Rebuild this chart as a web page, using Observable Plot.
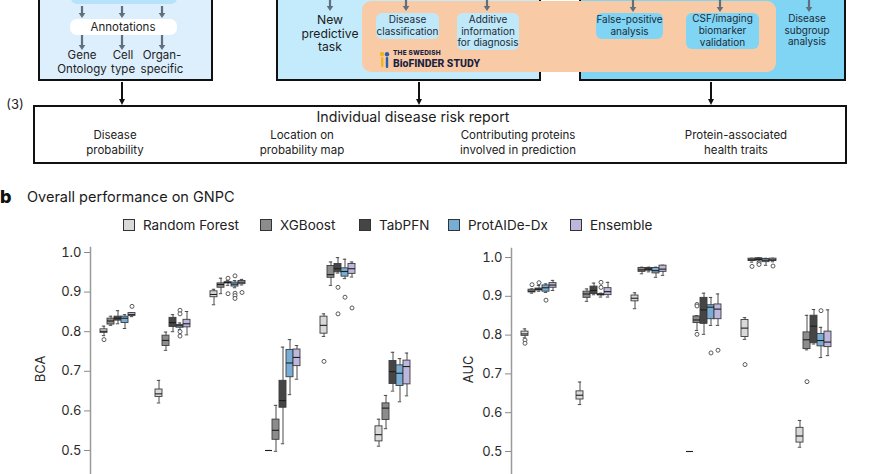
<!DOCTYPE html>
<html>
<head>
<meta charset="utf-8">
<script src="https://cdn.jsdelivr.net/npm/d3@7"></script>
<script src="https://cdn.jsdelivr.net/npm/@observablehq/plot@0.6"></script>
<style>
  html, body { margin: 0; padding: 0; background: #fff; }
  #root { position: relative; width: 870px; height: 474px; overflow: hidden; font-family: Inter, "Noto Sans", sans-serif; color: #222; }
  .abs { position: absolute; box-sizing: border-box; }
  .t { position: absolute; text-align: center; white-space: nowrap; }
  .pill { position: absolute; box-sizing: border-box; border-radius: 6px; display: flex; align-items: center; justify-content: center; text-align: center; white-space: nowrap; font-size: 10px; line-height: 11.8px; color: #1d2b38; }
</style>
</head>
<body>
<div id="root"></div>
<script>
// ---------------- data ----------------
const groups = ["Task 1", "Task 2", "Task 3", "Task 4", "Task 5", "Task 6"];
const models = ["Random Forest", "XGBoost", "TabPFN", "ProtAIDe-Dx", "Ensemble"];
const modelColors = ["#d9d9d9", "#8c8c8c", "#454545", "#78aed6", "#bdb7dd"];
const yTicks = [0.5, 0.6, 0.7, 0.8, 0.9, 1.0];

// box statistics per group: [lower whisker, Q1, median, Q3, upper whisker]
const bcaRandomForest = [[0.790,0.797,0.801,0.806,0.814],[0.620,0.635,0.643,0.654,0.677],[0.868,0.887,0.894,0.902,0.907],[0.500,0.500,0.500,0.500,0.500],[0.788,0.795,0.816,0.838,0.845],[0.511,0.523,0.540,0.561,0.579]];
const bcaXGBoost      = [[0.816,0.818,0.827,0.833,0.839],[0.753,0.764,0.778,0.790,0.799],[0.896,0.911,0.919,0.922,0.935],[0.498,0.527,0.551,0.578,0.614],[0.917,0.936,0.944,0.966,0.976],[0.555,0.577,0.607,0.619,0.639]];
const bcaTabPFN       = [[0.820,0.828,0.834,0.838,0.853],[0.800,0.812,0.823,0.835,0.843],[0.917,0.922,0.924,0.925,0.929],[0.517,0.608,0.626,0.676,0.761],[0.948,0.950,0.959,0.971,0.987],[0.650,0.668,0.699,0.726,0.748]];
const bcaProtAIDe     = [[0.808,0.822,0.834,0.838,0.843],[0.805,0.810,0.815,0.817,0.822],[0.911,0.914,0.920,0.924,0.929],[0.641,0.685,0.721,0.754,0.780],[0.934,0.939,0.952,0.960,0.983],[0.623,0.663,0.695,0.715,0.732]];
const bcaEnsemble     = [[0.838,0.840,0.843,0.847,0.848],[0.792,0.811,0.820,0.830,0.851],[0.918,0.920,0.925,0.928,0.932],[0.680,0.713,0.735,0.755,0.765],[0.938,0.946,0.959,0.971,0.976],[0.638,0.667,0.712,0.727,0.746]];
const bcaOutliers = [
  ["Task 1","Random Forest",0.780],["Task 1","Ensemble",0.864],
  ["Task 2","ProtAIDe-Dx",0.854],["Task 2","ProtAIDe-Dx",0.845],["Task 2","ProtAIDe-Dx",0.800],["Task 2","ProtAIDe-Dx",0.789],
  ["Task 3","TabPFN",0.935],["Task 3","TabPFN",0.896],["Task 3","ProtAIDe-Dx",0.941],["Task 3","ProtAIDe-Dx",0.897],["Task 3","ProtAIDe-Dx",0.891],["Task 3","ProtAIDe-Dx",0.884],["Task 3","Ensemble",0.899],
  ["Task 5","Random Forest",0.725],["Task 5","TabPFN",0.912],["Task 5","TabPFN",0.845],["Task 5","ProtAIDe-Dx",0.887],["Task 5","Ensemble",0.860]
];

const aucRandomForest = [[0.793,0.798,0.803,0.809,0.816],[0.621,0.634,0.645,0.655,0.679],[0.868,0.887,0.895,0.902,0.909],[0.500,0.500,0.500,0.500,0.500],[0.789,0.795,0.818,0.839,0.845],[0.511,0.523,0.540,0.561,0.580]];
const aucXGBoost      = [[0.908,0.910,0.913,0.917,0.919],[0.887,0.896,0.906,0.912,0.919],[0.958,0.963,0.968,0.973,0.975],[0.812,0.831,0.839,0.848,0.850],[0.988,0.991,0.994,0.997,0.998],[0.762,0.764,0.788,0.807,0.851]];
const aucTabPFN       = [[0.913,0.915,0.918,0.920,0.928],[0.904,0.906,0.915,0.925,0.934],[0.963,0.966,0.970,0.973,0.975],[0.802,0.829,0.865,0.896,0.908],[0.990,0.992,0.995,0.998,0.999],[0.777,0.779,0.823,0.850,0.866]];
const aucProtAIDe     = [[0.910,0.912,0.922,0.928,0.932],[0.898,0.903,0.904,0.906,0.908],[0.949,0.959,0.966,0.973,0.975],[0.825,0.841,0.872,0.877,0.897],[0.980,0.988,0.993,0.996,0.998],[0.742,0.771,0.786,0.803,0.820]];
const aucEnsemble     = [[0.915,0.922,0.929,0.934,0.941],[0.898,0.903,0.912,0.921,0.936],[0.954,0.963,0.970,0.979,0.980],[0.825,0.841,0.867,0.879,0.906],[0.989,0.991,0.994,0.997,0.998],[0.747,0.769,0.782,0.809,0.865]];
const aucOutliers = [
  ["Task 1","Random Forest",0.787],["Task 1","Random Forest",0.779],["Task 1","XGBoost",0.930],["Task 1","TabPFN",0.935],["Task 1","ProtAIDe-Dx",0.890],
  ["Task 2","ProtAIDe-Dx",0.936],["Task 2","ProtAIDe-Dx",0.923],
  ["Task 4","XGBoost",0.879],["Task 4","XGBoost",0.875],["Task 4","XGBoost",0.802],["Task 4","ProtAIDe-Dx",0.754],["Task 4","Ensemble",0.761],
  ["Task 5","Random Forest",0.724],["Task 5","XGBoost",0.977],["Task 5","TabPFN",0.986],["Task 5","TabPFN",0.982],["Task 5","Ensemble",0.978],
  ["Task 6","XGBoost",0.680],["Task 6","ProtAIDe-Dx",0.863]
];

// ---------------- helpers for the schematic ----------------
const root = document.getElementById("root");
function el(tag, cls, css, html) {
  const e = document.createElement(tag);
  if (cls) e.className = cls;
  Object.assign(e.style, css || {});
  if (html != null) e.innerHTML = html;
  root.appendChild(e);
  return e;
}
function rect(x, y, w, h, css) { return el("div", "abs", Object.assign({left: x + "px", top: y + "px", width: w + "px", height: h + "px"}, css)); }
// cy = vertical centre of the FIRST line
function text(cx, cy, lines, size, lh, css) {
  return el("div", "t", Object.assign({left: (cx - 150) + "px", width: "300px", top: (cy - lh / 2) + "px", fontSize: size + "px", lineHeight: lh + "px"}, css), lines.join("<br>"));
}
function pill(x, y, w, h, bg, lines) {
  return el("div", "pill", {left: x + "px", top: y + "px", width: w + "px", height: h + "px", background: bg}, lines.join("<br>"));
}

// ---------------- schematic (top) ----------------
rect(38, -20, 175, 101, {background: "#ddeffd", border: "2px solid #111"});
rect(71, -12, 106, 16, {background: "#b7e3fa", borderRadius: "6px"});
rect(70, 19, 107, 16, {background: "#ffffff", borderRadius: "7px"});
text(123, 27, ["Annotations"], 11.5, 14, {color: "#222"});
text(82, 55, ["Gene", "Ontology"], 11.5, 14);
text(123, 55, ["Cell", "type"], 11.5, 14);
text(162, 55, ["Organ-", "specific"], 11.5, 14);

rect(276, -20, 265, 101, {background: "#c4ebfb", border: "2px solid #111"});
rect(579, -20, 267, 101, {background: "#80d4f4", border: "2px solid #111"});
rect(362, 1, 414, 71, {background: "#f8cba6", borderRadius: "9px"});
text(330, 20, ["New", "predictive", "task"], 12.2, 13.5, {color: "#1b1b1b"});
pill(376, 13, 63, 26, "#bfe8f9", ["Disease", "classification"]);
pill(457, 13, 62, 37, "#bfe8f9", ["Additive", "information", "for diagnosis"]);
pill(596, 13, 67, 26, "#80d4f4", ["False-positive", "analysis"]);
pill(686, 13, 73, 36, "#80d4f4", ["CSF/imaging", "biomarker", "validation"]);
text(807, 19, ["Disease", "subgroup", "analysis"], 10, 11.6, {color: "#1d2b38"});
el("div", "abs", {left: "379px", top: "51px", width: "12px", height: "18px"},
  '<svg width="12" height="18"><circle cx="3" cy="3" r="2.2" fill="#f2b51c"/><circle cx="8" cy="3.2" r="2.2" fill="#2b5fa8"/><rect x="2" y="6" width="2.4" height="10" rx="1" fill="#f2b51c"/><rect x="6.8" y="6" width="2.4" height="11" rx="1" fill="#2b5fa8"/></svg>');
el("div", "abs", {left: "393px", top: "50px", fontSize: "6.5px", fontWeight: "800", color: "#1b2140", letterSpacing: "0.2px", lineHeight: "6.5px"}, "THE SWEDISH");
el("div", "abs", {left: "393px", top: "57.5px", fontSize: "10.5px", fontWeight: "800", color: "#1b2140", lineHeight: "11px", fontFamily: "Roboto, Inter, sans-serif"}, "BioFINDER STUDY");

rect(33, 105, 814, 59, {background: "#fff", border: "2px solid #111"});
text(15, 104, ["(3)"], 13, 15, {color: "#222"});
text(413, 117, ["Individual disease risk report"], 14.2, 16, {color: "#1b1b1b"});
text(115, 135, ["Disease", "probability"], 11.5, 15);
text(302, 135, ["Location on", "probability map"], 11.5, 15);
text(518, 135, ["Contributing proteins", "involved in prediction"], 11.5, 15);
text(736, 135, ["Protein-associated", "health traits"], 11.5, 15);

const arrowSvg = el("div", "abs", {left: "0px", top: "0px", width: "870px", height: "170px", pointerEvents: "none"});
function arrow(x, y1, y2, color, w, hw, hl) {
  return `<line x1="${x}" y1="${y1}" x2="${x}" y2="${y2 - hl + 1}" stroke="${color}" stroke-width="${w}"/>` +
         `<path d="M${x - hw},${y2 - hl} L${x + hw},${y2 - hl} L${x},${y2} Z" fill="${color}"/>`;
}
let a = "";
const slate = "#5f6f7e";
[82, 122, 162].forEach(x => { a += arrow(x, 6, 18, slate, 2.2, 3.3, 5); a += arrow(x, 35, 50, slate, 2.2, 3.3, 5); });
[330, 406, 487].forEach(x => { a += arrow(x, -2, 11, slate, 2.2, 3.3, 5); });
[633, 720, 809].forEach(x => { a += arrow(x, -2, 12, slate, 2.2, 3.3, 5); });
[122, 419, 711].forEach(x => { a += arrow(x, 82, 105, "#111", 2, 3, 6); });
arrowSvg.innerHTML = `<svg width="870" height="170">${a}</svg>`;

// ---------------- panel b header + legend ----------------
el("div", "abs", {left: "0px", top: "187px", fontSize: "18px", fontWeight: "800", lineHeight: "20px", color: "#111"}, "b");
el("div", "abs", {left: "27px", top: "188px", fontSize: "14.5px", lineHeight: "18px", color: "#1b1b1b"}, "Overall performance on GNPC");
const legendX = [123, 260, 359, 448, 570];
models.forEach((m, i) => {
  rect(legendX[i], 219, 12, 12, {background: modelColors[i], border: "1.2px solid #333"});
  el("div", "abs", {left: (legendX[i] + 20) + "px", top: "216px", fontSize: "13.5px", lineHeight: "18px", color: "#222"}, m);
});

// ---------------- box plots ----------------
function tidy(statsByModel, outliers) {
  const rows = [];
  statsByModel.forEach((arr, mi) => arr.forEach((s, gi) => rows.push({group: groups[gi], model: models[mi], lo: s[0], q1: s[1], med: s[2], q3: s[3], hi: s[4]})));
  const outs = outliers.map(([g, m, v]) => ({group: g, model: m, v}));
  return {rows, outs};
}
function panel(statsByModel, outliers, yDomain, label, opts) {
  const {rows, outs} = tidy(statsByModel, outliers);
  return Plot.plot({
    width: 430, height: 270,
    marginLeft: opts.marginLeft, marginRight: opts.marginRight, marginTop: opts.marginTop, marginBottom: opts.marginBottom,
    style: {fontFamily: "Inter, 'Noto Sans', sans-serif", fontSize: "13px", color: "#2a2a2a", background: "transparent", overflow: "visible"},
    fx: {domain: groups, padding: 0, axis: null, label: null},
    x: {domain: models, paddingInner: 0.04, paddingOuter: 1.09, axis: null},
    y: {domain: yDomain},
    color: {domain: models, range: modelColors},
    marks: [
      Plot.frame({anchor: "left", facetAnchor: "left", stroke: "#9a9a9a", strokeWidth: 1.5}),
      Plot.axisY({ticks: yTicks, tickFormat: d3.format(".1f"), tickSize: 6, tickPadding: 3, stroke: "#8a8a8a", fill: "#2a2a2a",
                  label, labelAnchor: "center", labelOffset: opts.labelOffset, labelArrow: "none"}),
      Plot.ruleX(rows, {fx: "group", x: "model", y1: "lo", y2: "hi", stroke: "#4a4a4a", strokeWidth: 1}),
      Plot.tickY(rows, {fx: "group", x: "model", y: "lo", insetLeft: 1.8, insetRight: 1.8, stroke: "#4a4a4a", strokeWidth: 1}),
      Plot.tickY(rows, {fx: "group", x: "model", y: "hi", insetLeft: 1.8, insetRight: 1.8, stroke: "#4a4a4a", strokeWidth: 1}),
      Plot.barY(rows, {fx: "group", x: "model", y1: "q1", y2: "q3", fill: "model", stroke: "#3c3c3c", strokeWidth: 0.9}),
      Plot.tickY(rows, {fx: "group", x: "model", y: "med", stroke: "#1e1e1e", strokeWidth: 1.1}),
      Plot.dot(outs, {fx: "group", x: "model", y: "v", r: 2, stroke: "#4a4a4a", strokeWidth: 0.9, fill: "#fff"})
    ]
  });
}

const left = panel([bcaRandomForest, bcaXGBoost, bcaTabPFN, bcaProtAIDe, bcaEnsemble], bcaOutliers,
  [0.4, 1.0126], "BCA", {marginLeft: 90, marginRight: 10, marginTop: 7, marginBottom: 20.4, labelOffset: 55});
const right = panel([aucRandomForest, aucXGBoost, aucTabPFN, aucProtAIDe, aucEnsemble], aucOutliers,
  [0.4, 1.0232], "AUC", {marginLeft: 71, marginRight: 29, marginTop: 8, marginBottom: 20.2, labelOffset: 48});

const lw = el("div", "abs", {left: "0px", top: "240px"});
lw.appendChild(left);
const rw = el("div", "abs", {left: "440px", top: "240px"});
rw.appendChild(right);
</script>
</body>
</html>
